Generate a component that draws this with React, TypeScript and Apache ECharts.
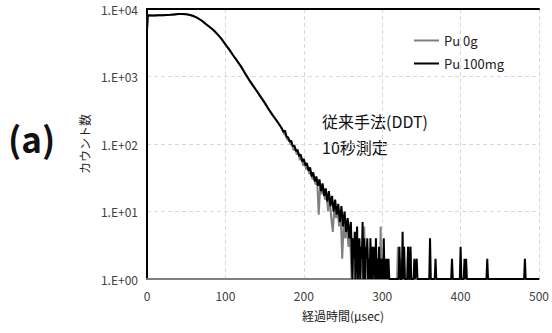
import React, { useEffect, useRef } from "react";
import * as echarts from "echarts";

// Shared smooth head of both curves (time in µsec, counts)
const headTimes = [0, 1, 5, 10, 15, 20, 25, 30, 35, 40, 45, 50, 55, 60, 65, 70, 75, 80, 85, 90, 95, 100, 105, 110, 115, 120, 125, 130, 135, 140, 145, 150, 155, 160, 165, 170];
const headCounts = [4900, 8100, 8000, 8000, 8050, 8100, 8150, 8200, 8300, 8400, 8450, 8350, 8150, 7800, 7300, 6700, 6000, 5400, 4850, 4200, 3600, 3000, 2500, 2050, 1700, 1400, 1120, 900, 740, 610, 500, 410, 330, 270, 225, 185];

// Pu 0g noisy tail: [time µsec, counts]
const pu0Tail: [number, number][] = [
  [171, 175], [173, 160], [175, 140], [177, 135], [179, 115], [181, 118], [183, 98], [185, 100], [187, 80], [189, 88],
  [191, 70], [193, 75], [195, 58], [197, 65], [199, 48], [201, 55], [203, 42], [205, 47], [207, 36], [209, 40],
  [211, 30], [213, 34], [215, 25], [217, 30], [219, 9], [221, 25], [223, 18], [225, 22], [227, 15], [229, 18],
  [231, 10], [233, 16], [235, 8], [237, 5], [239, 12], [241, 8], [243, 11], [245, 6], [247, 9], [249, 2],
  [251, 7], [253, 4], [255, 6], [257, 3], [259, 5], [261, 1], [263, 4], [265, 1], [267, 3], [269, 2],
  [271, 1], [273, 3], [275, 1], [277, 6], [279, 1], [281, 3], [283, 1], [285, 2], [287, 1], [289, 3],
  [291, 1], [293, 2], [295, 1], [297, 1], [298, 6], [299, 1], [301, 2], [303, 1], [305, 1], [319, 1],
  [320, 3], [321, 1], [323, 2], [325, 1], [332, 1], [333, 3], [334, 1], [336, 3], [337, 1], [345, 1],
];

// Pu 100mg noisy tail: [time µsec, counts]
const pu100Tail: [number, number][] = [
  [172, 170], [174, 150], [176, 158], [178, 128], [180, 125], [182, 108], [184, 112], [186, 92], [188, 95], [190, 78],
  [192, 82], [194, 66], [196, 70], [198, 55], [200, 60], [202, 48], [204, 52], [206, 40], [208, 45], [210, 33],
  [212, 38], [214, 28], [216, 33], [218, 24], [220, 30], [222, 20], [224, 26], [226, 17], [228, 22], [230, 14],
  [232, 20], [234, 12], [236, 17], [238, 10], [240, 15], [242, 9], [244, 13], [246, 7], [248, 12], [250, 6],
  [252, 10], [254, 5], [256, 8], [258, 4], [260, 7],
  [261, 3], [262, 1], [263, 4], [264, 2], [265, 5], [266, 1], [267, 3], [268, 6], [269, 1], [270, 2],
  [271, 4], [272, 1], [273, 3], [274, 2], [275, 7], [276, 1], [277, 4], [278, 1], [279, 3], [280, 2],
  [281, 4], [282, 1], [283, 2], [284, 1], [285, 4], [286, 1], [287, 3], [288, 1], [289, 2], [290, 3],
  [291, 1], [292, 4], [293, 1], [294, 2], [295, 1], [296, 3], [297, 1], [298, 2], [299, 1], [300, 2],
  [301, 1], [302, 4], [303, 1], [304, 2], [305, 1], [306, 2], [307, 1], [308, 2], [309, 1], [310, 1],
  [321, 1], [322, 3], [323, 1], [325, 1], [326, 5], [327, 1], [328, 3], [329, 1], [332, 1], [333, 3],
  [334, 1], [335, 1], [336, 3], [337, 1], [340, 1], [341, 2], [342, 1], [344, 2], [345, 1], [360, 1],
  [361, 4], [362, 1], [367, 1], [368, 2], [369, 1], [388, 1], [389, 2], [390, 1], [399, 1], [400, 3],
  [401, 1], [404, 1], [405, 2], [406, 1], [407, 2], [408, 1], [433, 1], [434, 2], [435, 1], [481, 1],
  [482, 2], [483, 1], [500, 1],
];

const xTicks = [0, 100, 200, 300, 400, 500];
const seriesNames = ["Pu 0g", "Pu 100mg"];

export default function App() {
  const ref = useRef<HTMLDivElement>(null);
  useEffect(() => {
    if (!ref.current) return;
    const chart = echarts.init(ref.current, undefined, { renderer: "svg" });
    const head = headTimes.map((t, i) => [t, headCounts[i]]);
    const font = "'Noto Sans CJK JP', 'Noto Sans', sans-serif";
    const yFmt = (v: number) => {
      const e = Math.round(Math.log10(v));
      return "1.E+" + (e < 10 ? "0" : "") + e;
    };
    chart.setOption({
      animation: false,
      textStyle: { fontFamily: font },
      grid: { left: 147, right: 12, top: 9, bottom: 54 },
      legend: {
        orient: "vertical",
        left: 409,
        top: 29,
        icon: "rect",
        itemWidth: 25,
        itemHeight: 2,
        itemGap: 10,
        textStyle: { fontSize: 13, color: "#222", fontFamily: font },
        data: seriesNames,
      },
      xAxis: [
        {
          type: "value",
          min: xTicks[0],
          max: xTicks[xTicks.length - 1],
          interval: 100,
          name: "経過時間(μsec)",
          nameLocation: "middle",
          nameGap: 30,
          nameTextStyle: { fontSize: 12, color: "#222" },
          axisLine: { lineStyle: { color: "#7f7f7f", width: 2 } },
          axisTick: { show: false },
          axisLabel: { fontSize: 12, color: "#404040", margin: 10 },
          splitLine: { lineStyle: { color: "#d9d9d9", type: [4, 3] } },
        },
        {
          type: "value",
          position: "top",
          min: 0,
          max: 500,
          axisLine: { show: true, lineStyle: { color: "#000", width: 2 } },
          axisTick: { show: false },
          axisLabel: { show: false },
          splitLine: { show: false },
        },
      ],
      yAxis: [
        {
          type: "log",
          logBase: 10,
          min: 1,
          max: 10000,
          name: "カウント数",
          nameLocation: "middle",
          nameGap: 51,
          nameRotate: 90,
          nameTextStyle: { fontSize: 12, color: "#222" },
          axisLine: { show: true, lineStyle: { color: "#7f7f7f", width: 2 } },
          axisTick: { show: false },
          axisLabel: { fontSize: 12, color: "#404040", margin: 9, formatter: yFmt },
          splitLine: { lineStyle: { color: "#d9d9d9", type: [4, 3] } },
          minorSplitLine: { show: false },
        },
        {
          type: "log",
          logBase: 10,
          min: 1,
          max: 10000,
          position: "right",
          axisLine: { show: true, lineStyle: { color: "#000", width: 2 } },
          axisTick: { show: false },
          axisLabel: { show: false },
          splitLine: { show: false },
        },
      ],
      graphic: [
        {
          type: "text",
          left: 8,
          top: 120,
          style: { text: "(a)", fontSize: 35, fontWeight: "bold", fill: "#111", fontFamily: font },
        },
        {
          type: "text",
          left: 322,
          top: 108,
          style: { text: "従来手法(DDT)\n10秒測定", fontSize: 16, lineHeight: 26, fill: "#111", fontFamily: font },
        },
      ],
      series: [
        {
          name: seriesNames[0],
          type: "line",
          symbol: "none",
          lineStyle: { color: "#808080", width: 2 },
          itemStyle: { color: "#808080" },
          data: head.concat(pu0Tail),
        },
        {
          name: seriesNames[1],
          type: "line",
          symbol: "none",
          lineStyle: { color: "#000", width: 2 },
          itemStyle: { color: "#000" },
          data: head.concat(pu100Tail),
        },
      ],
    });
    return () => chart.dispose();
  }, []);
  return <div ref={ref} style={{ width: 552, height: 333, position: "absolute", left: 0, top: 0 }} />;
}
